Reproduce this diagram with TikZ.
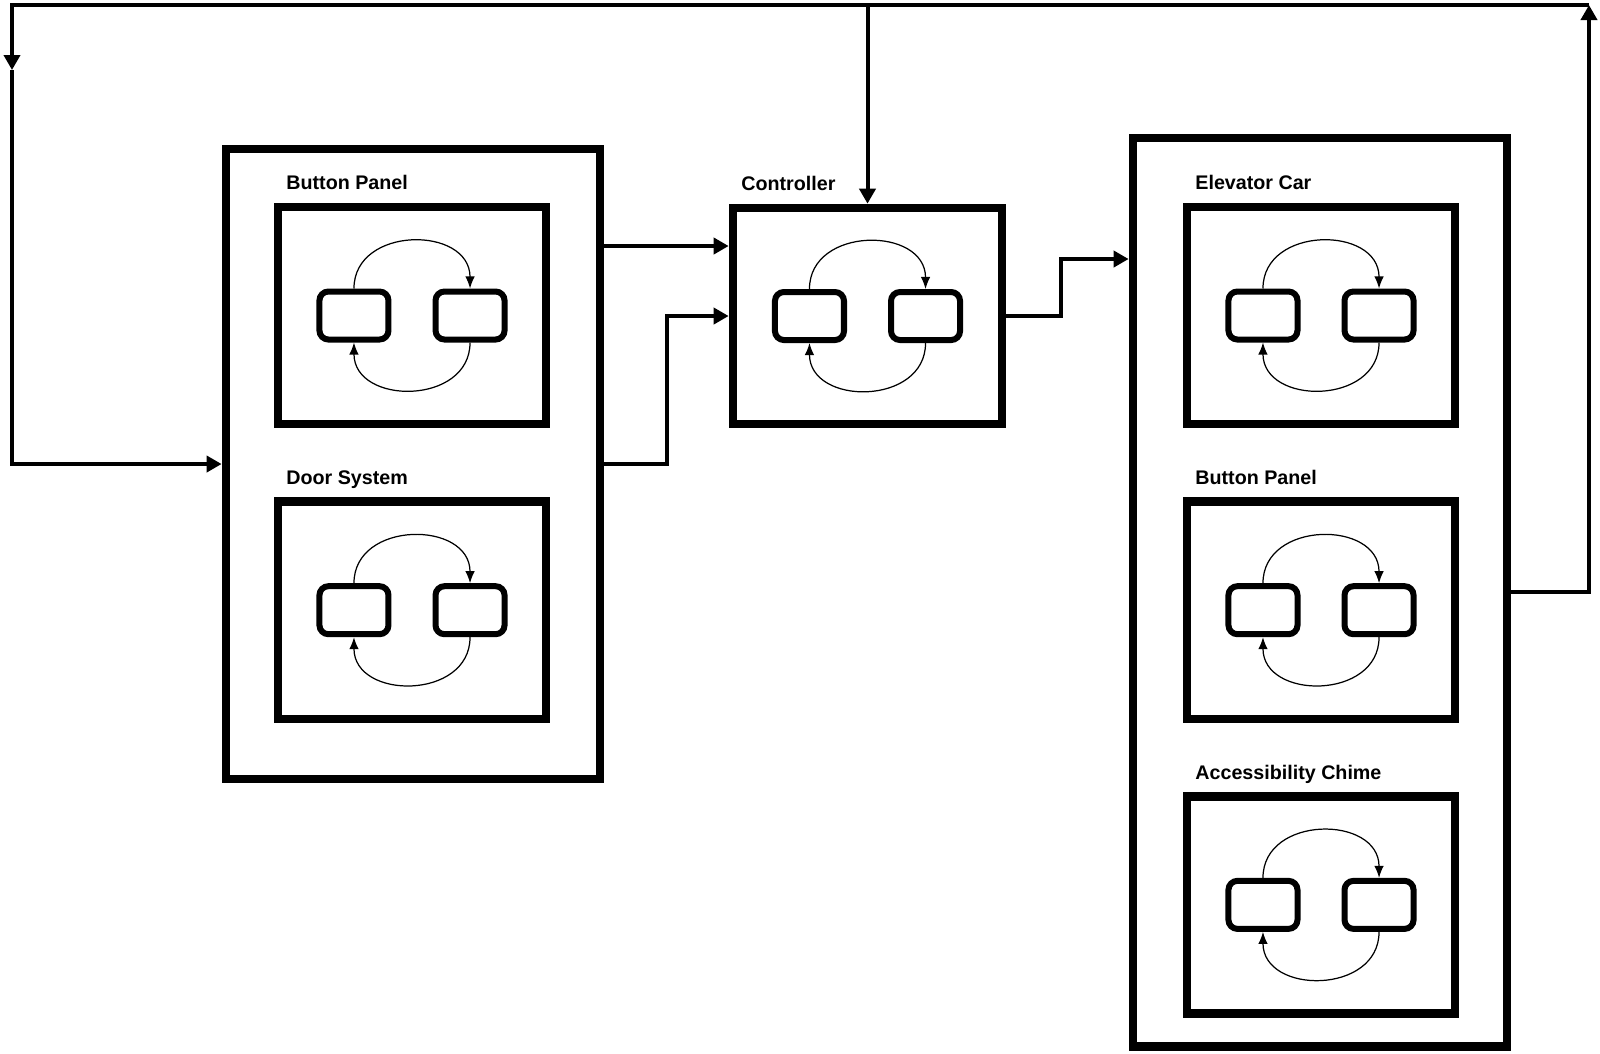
\documentclass[tikz,border=0pt]{standalone}
\usepackage{fontspec}
\setmainfont{Liberation Sans}
\usetikzlibrary{positioning,arrows.meta}
\tikzset{
	conn/.style={-{Triangle[length=0.15cm,width=0.16cm]}, line width=0.04cm}, % connectors between blocks
	grp/.style={rectangle, draw, line width=0.085cm, inner sep=0pt, minimum width=3.74cm},
	sub/.style={rectangle, draw, line width=0.085cm, inner sep=0pt, minimum width=2.68cm, minimum height=2.17cm},
	st/.style={rectangle, rounded corners=0.09cm, draw, line width=0.06cm, minimum width=0.69cm, minimum height=0.48cm, inner sep=0pt}, % small state boxes
	loopedge/.style={-{Latex[length=0.12cm,width=0.095cm]}, line width=0.35pt},
	lbl/.style={anchor=base west, inner sep=0pt, font=\fontsize{5.6pt}{6.7pt}\selectfont\bfseries}
}
\begin{document}
\begin{tikzpicture}[x=0.01cm, y=-0.01cm]
	\useasboundingbox (0,0) rectangle (1600,1053);
	% outer groups and controller
	\node[grp, minimum height=6.30cm] (leftgrp) at (413,464) {};
	\node[grp, minimum height=9.08cm] (rightgrp) at (1320,592) {};
	\node[sub, minimum width=2.69cm, minimum height=2.16cm] (ctrl) at (867.5,316) {};
	% inner blocks
	\node[sub] (bpanel) at (412,315.5) {};
	\node[sub, below=0.69cm of bpanel] (door) {};
	\node[sub] (car) at (1321,315.5) {};
	\node[sub, below=0.69cm of car] (cpanel) {};
	\node[sub, below=0.69cm of cpanel] (chime) {};
	% titles
	\foreach \b/\t in {bpanel/Button Panel, door/Door System, ctrl/Controller, car/Elevator Car, cpanel/Button Panel, chime/Accessibility Chime}
		\node[lbl] at ([shift={(0.12cm,0.13cm)}]\b.north west) {\t};
	% two states in every block
	\foreach \b in {bpanel,door,ctrl,car,cpanel,chime}{
		\node[st] (\b-l) at ([xshift=-0.58cm]\b.center) {};
		\node[st] (\b-r) at ([xshift=0.58cm]\b.center) {};
		\draw[loopedge] (\b-l.north) .. controls +(0pt,0.63cm) and +(0pt,0.63cm) .. (\b-r.north);
		\draw[loopedge] (\b-r.south) .. controls +(0pt,-0.63cm) and +(0pt,-0.63cm) .. (\b-l.south);
	}
	% connectors
	\coordinate (topL) at (12,5);
	\coordinate (topR) at (1589,5);
	\coordinate (midL) at (12,70);
	\draw[conn] (leftgrp.east |- 0,246) -- (ctrl.west |- 0,246);
	\draw[conn] (leftgrp.east) -| (667,390) |- (ctrl.west);
	\draw[conn] (ctrl.east) -| (1061,290) |- (rightgrp.west |- 0,259);
	\draw[conn] (rightgrp.east) -| (topR);
	\draw[conn] (topR) -- (topL) -- (midL);
	\draw[conn] (midL) |- (leftgrp.west);
	\draw[conn] (ctrl.north |- topL) -- (ctrl.north);
\end{tikzpicture}
\end{document}
